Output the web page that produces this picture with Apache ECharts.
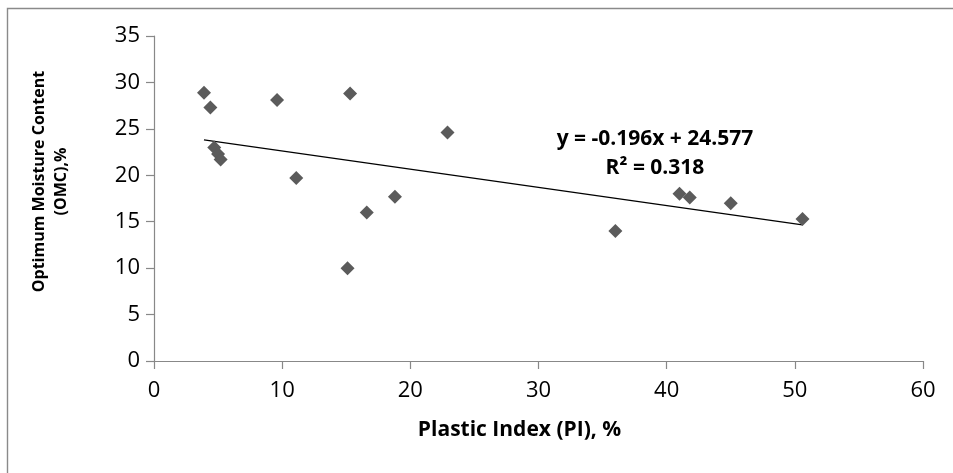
<!DOCTYPE html>
<html>
<head>
<meta charset="utf-8">
<script src="https://cdn.jsdelivr.net/npm/echarts@6/dist/echarts.min.js"></script>
<style>
html,body{margin:0;padding:0;background:#fff;}
#chart{width:953px;height:473px;}
</style>
</head>
<body>
<div id="chart"></div>
<script>
// Plastic Index (PI), %
const piValues = [3.9, 4.4, 4.7, 5.0, 5.2, 9.6, 11.1, 15.3, 15.1, 16.6, 18.8, 22.9, 36.0, 41.0, 41.8, 45.0, 50.6];
// Optimum Moisture Content (OMC), %
const omcValues = [28.9, 27.3, 23.0, 22.3, 21.7, 28.1, 19.7, 28.8, 10.0, 16.0, 17.7, 24.6, 14.0, 18.0, 17.6, 17.0, 15.3];
// Linear trendline endpoints (y = -0.196x + 24.577)
const trendX = [3.9, 50.6];
const trendY = [23.81, 14.66];
const xTicks = { min: 0, max: 60, interval: 10 };
const yTicks = { min: 0, max: 35, interval: 5 };
const equationText = 'y = -0.196x + 24.577';
const r2Text = 'R² = 0.318';

const FONT = '"Open Sans", "Liberation Sans", sans-serif';
const points = piValues.map((x, i) => [x, omcValues[i]]);
const trend = trendX.map((x, i) => [x, trendY[i]]);

const chart = echarts.init(document.getElementById('chart'), null, { renderer: 'canvas' });
chart.setOption({
  animation: false,
  backgroundColor: '#ffffff',
  grid: { left: 154, right: 30, top: 36, bottom: 112, containLabel: false },
  xAxis: {
    type: 'value', min: xTicks.min, max: xTicks.max, interval: xTicks.interval,
    name: 'Plastic Index (PI), %', nameLocation: 'middle', nameGap: 59,
    nameTextStyle: { fontFamily: FONT, fontWeight: 'bold', fontSize: 21, color: '#000', padding: [0, 38, 0, 0] },
    axisLine: { show: true, lineStyle: { color: '#888888', width: 1.2 } },
    axisTick: { show: true, inside: false, length: 8, lineStyle: { color: '#888888', width: 1.2 } },
    axisLabel: { fontFamily: FONT, fontSize: 22, color: '#000', margin: 19 },
    splitLine: { show: false }
  },
  yAxis: {
    type: 'value', min: yTicks.min, max: yTicks.max, interval: yTicks.interval,
    name: 'Optimum Moisture Content\n(OMC),%', nameLocation: 'middle', nameGap: 82, nameRotate: 90,
    nameTextStyle: { fontFamily: FONT, fontWeight: 'bold', fontSize: 16, lineHeight: 21.5, color: '#000', align: 'center', padding: [0, 0, 0, 34] },
    axisLine: { show: true, lineStyle: { color: '#888888', width: 1.2 } },
    axisTick: { show: true, inside: false, length: 8, lineStyle: { color: '#888888', width: 1.2 } },
    axisLabel: { fontFamily: FONT, fontSize: 22, color: '#000', margin: 14 },
    splitLine: { show: false }
  },
  graphic: [
    { type: 'rect', silent: true, z: -1, shape: { x: 7.5, y: 8.5, width: 980, height: 500 },
      style: { fill: 'none', stroke: '#8a8a8a', lineWidth: 1.4 } },
    { type: 'text', silent: true, style: { x: 655, y: 139, text: equationText, textAlign: 'center', textVerticalAlign: 'middle',
      font: 'bold 21px ' + FONT, fill: '#000' } },
    { type: 'text', silent: true, style: { x: 655, y: 168, text: r2Text, textAlign: 'center', textVerticalAlign: 'middle',
      font: 'bold 21px ' + FONT, fill: '#000' } }
  ],
  series: [
    {
      name: 'OMC', type: 'scatter', data: points, symbol: 'diamond', symbolSize: 14,
      itemStyle: { color: '#5b5b5b', opacity: 1 }, z: 3
    },
    {
      name: 'Linear (OMC)', type: 'line', data: trend, showSymbol: false, symbol: 'none',
      lineStyle: { color: '#000000', width: 1.3 }, z: 2, silent: true
    }
  ]
});
</script>
</body>
</html>
